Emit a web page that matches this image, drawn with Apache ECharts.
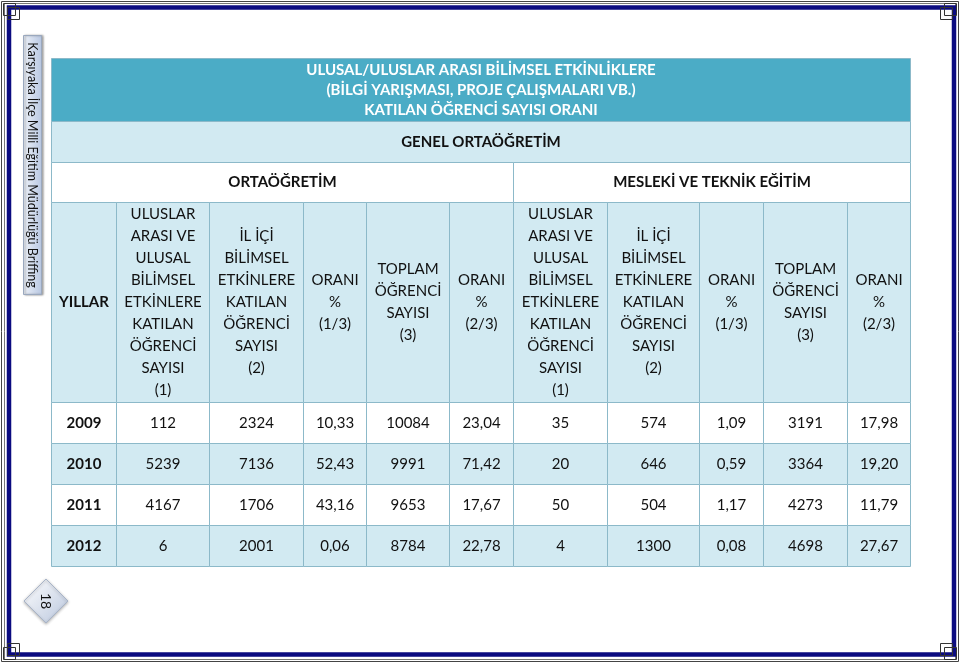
<!DOCTYPE html>
<html>
<head>
<meta charset="utf-8">
<script src="https://cdn.jsdelivr.net/npm/echarts@6/dist/echarts.min.js"></script>
<style>
  html, body { margin: 0; padding: 0; background: #fff; }
  #chart { width: 960px; height: 663px; }
</style>
</head>
<body>
<div id="chart"></div>
<script>
// --- table data ---
const years = ['2009', '2010', '2011', '2012'];

// genel ortaöğretim
const goUluslar = [112, 5239, 4167, 6];
const goIlIci = [2324, 7136, 1706, 2001];
const goOran1 = [10.33, 52.43, 43.16, 0.06];
const goToplam = [10084, 9991, 9653, 8784];
const goOran2 = [23.04, 71.42, 17.67, 22.78];

// mesleki ve teknik eğitim
const mtUluslar = [35, 20, 50, 4];
const mtIlIci = [574, 646, 504, 1300];
const mtOran1 = [1.09, 0.59, 1.17, 0.08];
const mtToplam = [3191, 3364, 4273, 4698];
const mtOran2 = [17.98, 19.20, 11.79, 27.67];

const titleText = 'ULUSAL/ULUSLAR ARASI BİLİMSEL ETKİNLİKLERE\n(BİLGİ YARIŞMASI, PROJE ÇALIŞMALARI VB.)\nKATILAN ÖĞRENCİ SAYISI ORANI';
const sectionText = 'GENEL ORTAÖĞRETİM';
const groupLabels = ['ORTAÖĞRETİM', 'MESLEKİ VE TEKNİK EĞİTİM'];
const colHeaders = [
  'YILLAR',
  'ULUSLAR\nARASI VE\nULUSAL\nBİLİMSEL\nETKİNLERE\nKATILAN\nÖĞRENCİ\nSAYISI\n(1)',
  'İL İÇİ\nBİLİMSEL\nETKİNLERE\nKATILAN\nÖĞRENCİ\nSAYISI\n(2)',
  'ORANI\n%\n(1/3)',
  'TOPLAM\nÖĞRENCİ\nSAYISI\n(3)',
  'ORANI\n%\n(2/3)',
  'ULUSLAR\nARASI VE\nULUSAL\nBİLİMSEL\nETKİNLERE\nKATILAN\nÖĞRENCİ\nSAYISI\n(1)',
  'İL İÇİ\nBİLİMSEL\nETKİNLERE\nKATILAN\nÖĞRENCİ\nSAYISI\n(2)',
  'ORANI\n%\n(1/3)',
  'TOPLAM\nÖĞRENCİ\nSAYISI\n(3)',
  'ORANI\n%\n(2/3)'
];

// --- layout (table units = px inside the grid) ---
const colEdges = [0, 65, 158, 252, 315, 398, 462, 556, 648, 712, 796, 859];
const rowEdges = [0, 63, 104, 144, 344, 385, 426, 467, 508];

const TEAL = '#4BACC6';
const LIGHT = '#D2EAF2';
const LINE = '#8CB9C9';
const FONT = 'Lato, "Open Sans", sans-serif';

const fmt = v => v.toFixed(2).replace('.', ',');

// build cell list
const cells = [];
function addCell(c0, c1, r0, r1, text, fill, opts) {
  cells.push(Object.assign({ c0, c1, r0, r1, text, fill, bold: false, color: '#111', lh: 22 }, opts || {}));
}
addCell(0, 11, 0, 1, titleText, TEAL, { bold: true, color: '#fff', lh: 20 });
addCell(0, 11, 1, 2, sectionText, LIGHT, { bold: true });
addCell(0, 6, 2, 3, groupLabels[0], '#fff', { bold: true });
addCell(6, 11, 2, 3, groupLabels[1], '#fff', { bold: true });
colHeaders.forEach((h, i) => addCell(i, i + 1, 3, 4, h, LIGHT, { bold: i === 0 }));

const columns = [
  goUluslar, goIlIci, goOran1.map(fmt), goToplam, goOran2.map(fmt),
  mtUluslar, mtIlIci, mtOran1.map(fmt), mtToplam, mtOran2.map(fmt)
];
years.forEach((y, r) => {
  const fill = r % 2 === 0 ? '#fff' : LIGHT;
  addCell(0, 1, 4 + r, 5 + r, y, fill, { bold: true });
  columns.forEach((col, c) => addCell(c + 1, c + 2, 4 + r, 5 + r, String(col[r]), fill));
});

const data = cells.map(c => [colEdges[c.c0], colEdges[c.c1], rowEdges[c.r0], rowEdges[c.r1]]);

function renderCell(params, api) {
  const cell = cells[params.dataIndex];
  const p0 = api.coord([api.value(0), api.value(2)]);
  const p1 = api.coord([api.value(1), api.value(3)]);
  const x = Math.round(p0[0]) + 0.5, y = Math.round(p0[1]) + 0.5;
  const w = Math.round(p1[0]) - Math.round(p0[0]);
  const h = Math.round(p1[1]) - Math.round(p0[1]);
  return {
    type: 'group',
    children: [
      {
        type: 'rect',
        shape: { x: x, y: y, width: w, height: h },
        style: { fill: cell.fill, stroke: LINE, lineWidth: 1 }
      },
      {
        type: 'text',
        style: {
          text: cell.text,
          x: x + w / 2,
          y: y + h / 2,
          align: 'center',
          verticalAlign: 'middle',
          fill: cell.color,
          font: (cell.bold ? 'bold ' : '') + '15px ' + FONT,
          lineHeight: cell.lh
        }
      }
    ]
  };
}

const chart = echarts.init(document.getElementById('chart'));

// small corner ornament squares
const corner = (x, y) => ({ type: 'rect', shape: { x: x, y: y, width: 12, height: 12 }, style: { fill: null, stroke: '#333', lineWidth: 1 } });

const option = {
  animation: false,
  backgroundColor: '#fff',
  grid: { left: 51, top: 58, width: 859, height: 508 },
  xAxis: { type: 'value', min: 0, max: 859, show: false },
  yAxis: { type: 'value', min: 0, max: 508, inverse: true, show: false },
  series: [
    {
      type: 'custom',
      renderItem: renderCell,
      encode: { x: [0, 1], y: [2, 3] },
      data: data
    }
  ],
  graphic: [
    // page frame
    { type: 'rect', shape: { x: 1.5, y: 1.5, width: 957, height: 660 }, style: { fill: null, stroke: '#444', lineWidth: 1 } },
    { type: 'rect', shape: { x: 4.5, y: 3.5, width: 951, height: 656 }, style: { fill: null, stroke: '#777', lineWidth: 1 } },
    { type: 'rect', shape: { x: 9, y: 7.5, width: 945, height: 647 }, style: { fill: null, stroke: '#0B0B80', lineWidth: 4.5 } },
    // corner ornaments
    corner(3.5, 3.5), corner(7.5, 7.5),
    corner(944.5, 3.5), corner(940.5, 7.5),
    corner(3.5, 647.5), corner(7.5, 643.5),
    corner(944.5, 647.5), corner(940.5, 643.5),
    // side label
    {
      type: 'rect',
      shape: { x: 23.5, y: 35.5, width: 18, height: 259 },
      style: {
        fill: new echarts.graphic.LinearGradient(0, 0, 1, 0, [
          { offset: 0, color: '#EEF2F9' },
          { offset: 1, color: '#B8C7E2' }
        ]),
        stroke: '#9AA8BE',
        lineWidth: 1,
        shadowColor: 'rgba(0,0,0,0.35)',
        shadowBlur: 2,
        shadowOffsetX: 1.5
      }
    },
    {
      type: 'text',
      x: 32,
      y: 165,
      rotation: -Math.PI / 2,
      style: {
        text: 'Karşıyaka İlçe Milli Eğitim Müdürlüğü Briffing',
        font: '12.5px ' + FONT,
        fill: '#111',
        align: 'center',
        verticalAlign: 'middle'
      }
    },
    // page number
    {
      type: 'polygon',
      shape: { points: [[46, 579], [68, 601], [46, 623], [24, 601]] },
      style: {
        fill: new echarts.graphic.LinearGradient(0, 0, 1, 1, [
          { offset: 0, color: '#FFFFFF' },
          { offset: 1, color: '#B9C6DD' }
        ]),
        stroke: '#A8B4C8',
        lineWidth: 1,
        shadowColor: 'rgba(0,0,0,0.3)',
        shadowBlur: 3,
        shadowOffsetY: 1
      }
    },
    {
      type: 'text',
      x: 46,
      y: 601,
      rotation: -Math.PI / 2,
      style: {
        text: '18',
        font: '14px ' + FONT,
        fill: '#111',
        align: 'center',
        verticalAlign: 'middle'
      }
    }
  ]
};

chart.setOption(option);
window.addEventListener('resize', () => chart.resize());
</script>
</body>
</html>
